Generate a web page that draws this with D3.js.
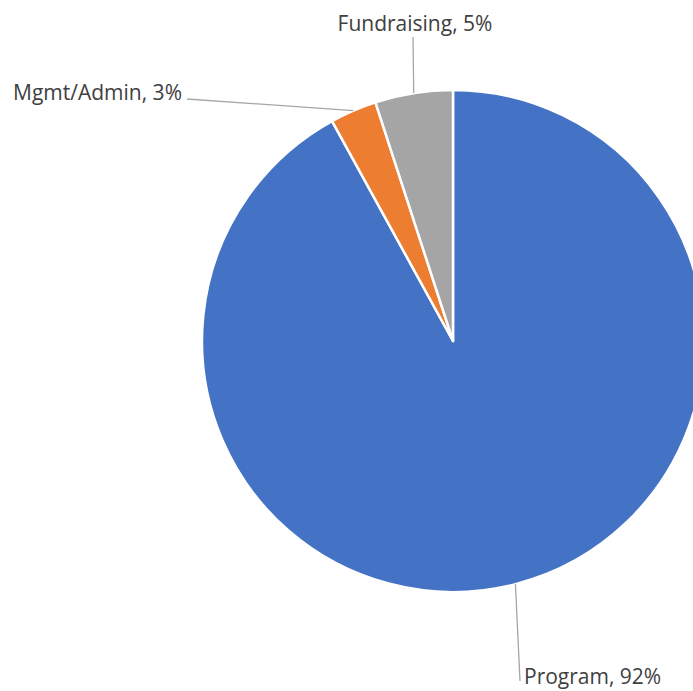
<!DOCTYPE html>
<html><head><meta charset="utf-8">
<script src="https://cdn.jsdelivr.net/npm/d3@7"></script>
<style>html,body{margin:0;padding:0;background:#fff;}</style>
</head><body>
<svg id="chart" width="693" height="691"></svg>
<script>
const categories = ["Program", "Mgmt/Admin", "Fundraising"];
const values = [92, 3, 5];
const colors = ["#4472C4", "#ED7D31", "#A5A5A5"];
// label anchor (leader end) and text placement for each slice
const labelEnds = [[520, 681], [187, 99], [413, 37]];
const labelText = [[524, 684, "start"], [182, 100, "end"], [415, 31, "middle"]];

const svg = d3.select("#chart");
const cx = 453, cy = 341, r = 251;
const g = svg.append("g").attr("transform", `translate(${cx},${cy})`);
const pie = d3.pie().sort(null).value(d => d)(values);
const arc = d3.arc().innerRadius(0).outerRadius(r);
g.selectAll("path").data(pie).join("path")
  .attr("d", arc).attr("fill", (d, i) => colors[i])
  .attr("stroke", "#fff").attr("stroke-width", 2.5).attr("stroke-linejoin", "round");

const total = d3.sum(values);
pie.forEach((d, i) => {
  const a = (d.startAngle + d.endAngle) / 2;
  const x0 = cx + r * Math.sin(a), y0 = cy - r * Math.cos(a);
  svg.append("line").attr("x1", x0).attr("y1", y0)
    .attr("x2", labelEnds[i][0]).attr("y2", labelEnds[i][1])
    .attr("stroke", "#A6A6A6").attr("stroke-width", 1.3);
  svg.append("text").attr("x", labelText[i][0]).attr("y", labelText[i][1])
    .attr("text-anchor", labelText[i][2])
    .attr("font-family", "'Open Sans', sans-serif").attr("font-size", 21)
    .attr("fill", "#404040")
    .text(`${categories[i]}, ${Math.round(values[i] / total * 100)}%`);
});
</script>
</body></html>
